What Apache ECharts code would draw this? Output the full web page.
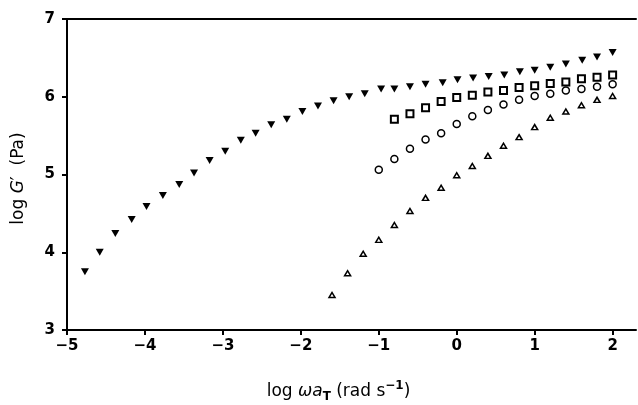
<!DOCTYPE html>
<html><head><meta charset="utf-8">
<script src="https://cdn.jsdelivr.net/npm/echarts@6/dist/echarts.min.js"></script>
<style>html,body{margin:0;padding:0;background:#fff}#c{width:638px;height:405px}</style>
</head><body><div id="c"></div>
<script>
// Filled inverted triangles
const invTriX = [-4.77,-4.58,-4.38,-4.17,-3.98,-3.77,-3.56,-3.37,-3.17,-2.97,-2.77,-2.58,-2.38,-2.18,-1.98,-1.78,-1.58,-1.38,-1.18,-0.97,-0.80,-0.60,-0.40,-0.18,0.01,0.21,0.41,0.61,0.81,1.00,1.20,1.40,1.61,1.80,2.00];
const invTriY = [3.75,4.00,4.24,4.42,4.59,4.73,4.87,5.02,5.18,5.30,5.44,5.53,5.64,5.71,5.81,5.88,5.95,6.00,6.04,6.10,6.10,6.13,6.16,6.18,6.22,6.24,6.26,6.28,6.32,6.34,6.38,6.42,6.47,6.51,6.57];
// Open squares
const sqX = [-0.8,-0.6,-0.4,-0.2,0,0.2,0.4,0.6,0.8,1.0,1.2,1.4,1.6,1.8,2.0];
const sqY = [5.71,5.78,5.86,5.94,5.99,6.02,6.06,6.08,6.12,6.14,6.17,6.19,6.23,6.25,6.28];
// Open circles
const ciX = [-1.0,-0.8,-0.6,-0.4,-0.2,0,0.2,0.4,0.6,0.8,1.0,1.2,1.4,1.6,1.8,2.0];
const ciY = [5.06,5.20,5.33,5.45,5.53,5.65,5.75,5.83,5.90,5.96,6.01,6.04,6.08,6.10,6.13,6.16];
// Open triangles
const triX = [-1.6,-1.4,-1.2,-1.0,-0.8,-0.6,-0.4,-0.2,0,0.2,0.4,0.6,0.8,1.0,1.2,1.4,1.6,1.8,2.0];
const triY = [3.45,3.73,3.98,4.16,4.35,4.53,4.70,4.83,4.99,5.11,5.24,5.37,5.48,5.61,5.73,5.81,5.89,5.96,6.01];
const xTicks = [-5,-4,-3,-2,-1,0,1,2];
const yTicks = [3,4,5,6,7];

const zip = (a,b) => a.map((v,i)=>[v,b[i]]);
const font = 'DejaVu Sans';
const chart = echarts.init(document.getElementById('c'), null, {renderer:'canvas'});
chart.setOption({
  animation:false,
  backgroundColor:'#fff',
  grid:{left:67, right:2, top:19, bottom:75, outerBoundsMode:'none', containLabel:false},
  xAxis:[{
    type:'value', min:-5, max:2.3, interval:1, position:'bottom',
    axisLine:{onZero:false, lineStyle:{color:'#000', width:2}},
    axisTick:{show:true, length:5, inside:false, lineStyle:{color:'#000', width:2},
      customValues: xTicks},
    axisLabel:{color:'#000', fontFamily:font, fontSize:15, fontWeight:'bold', margin:9, customValues: xTicks,
      formatter:v=> (v<0? '\u2212'+Math.abs(v) : ''+v)},
    splitLine:{show:false},
    name:'{n|log }{i|\u03c9a}{sub|T}{n| (rad s}{sup|\u22121}{n|)}',
    nameLocation:'middle', nameGap:50,
    nameTextStyle:{color:'#000', fontFamily:font, fontSize:17, padding:[0,26,0,0],
      rich:{
        n:{fontFamily:font, fontSize:17, color:'#000'},
        i:{fontFamily:font, fontSize:17, color:'#000', fontStyle:'italic'},
        sub:{fontFamily:font, fontSize:12, color:'#000', fontWeight:'bold', padding:[11,0,0,0]},
        sup:{fontFamily:font, fontSize:12, color:'#000', fontWeight:'bold', padding:[0,0,11,0]}
      }}
  },{
    type:'value', min:-5, max:2.3, position:'top',
    axisLine:{show:true, onZero:false, lineStyle:{color:'#000', width:2}},
    axisTick:{show:false}, axisLabel:{show:false}, splitLine:{show:false}
  }],
  yAxis:{
    type:'value', min:3, max:7, interval:1, position:'left',
    axisLine:{show:true, onZero:false, lineStyle:{color:'#000', width:2}},
    axisTick:{show:true, length:5, lineStyle:{color:'#000', width:2}},
    axisLabel:{color:'#000', fontFamily:font, fontSize:15, fontWeight:'bold', margin:12},
    splitLine:{show:false},
    name:'{n|log }{i|G}{n|\u2032  (Pa)}',
    nameLocation:'middle', nameGap:40, nameRotate:90,
    nameTextStyle:{color:'#000', fontFamily:font, fontSize:17, padding:[0,8,0,0],
      rich:{
        n:{fontFamily:font, fontSize:17, color:'#000'},
        i:{fontFamily:font, fontSize:17, color:'#000', fontStyle:'italic'}
      }}
  },
  series:[
    {type:'scatter', data:zip(invTriX,invTriY), symbol:'triangle', symbolRotate:180, symbolSize:[8,7],
      itemStyle:{color:'#000', opacity:1}},
    {type:'scatter', data:zip(sqX,sqY), symbol:'rect', symbolSize:7,
      itemStyle:{color:'#fff', borderColor:'#000', borderWidth:2, opacity:1}},
    {type:'scatter', data:zip(ciX,ciY), symbol:'circle', symbolSize:7,
      itemStyle:{color:'#fff', borderColor:'#000', borderWidth:1.5, opacity:1}},
    {type:'scatter', data:zip(triX,triY), symbol:'triangle', symbolSize:[6,5],
      itemStyle:{color:'#fff', borderColor:'#000', borderWidth:1.5, opacity:1}}
  ]
});
</script></body></html>
